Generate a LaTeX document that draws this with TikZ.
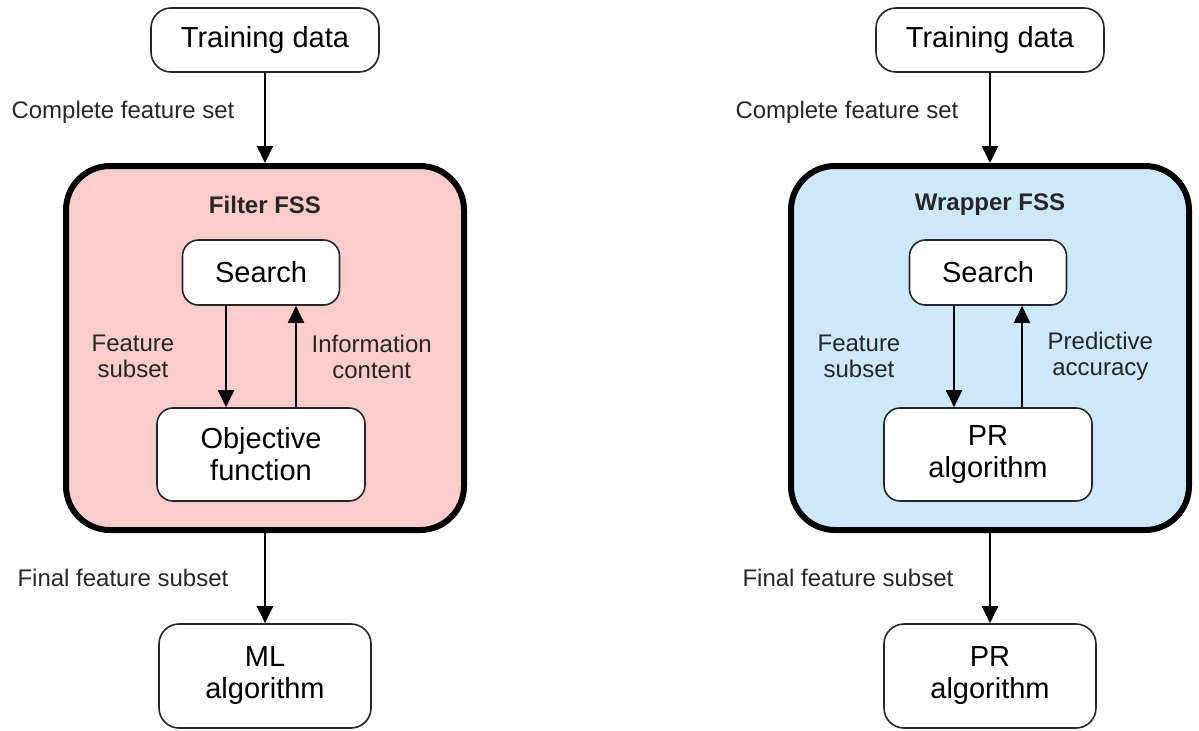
\documentclass[tikz,border=0pt]{standalone}
\usepackage{fontspec}
\setmainfont{Liberation Sans}
\usepackage{tikz}
\usetikzlibrary{arrows.meta,positioning}
\definecolor{filterpink}{RGB}{250,204,204}
\definecolor{wrapperblue}{RGB}{204,232,250}
\tikzset
{
    databox/.style  = {rectangle, rounded corners=10pt, draw=black!85, line width=0.8pt, fill=white, align=center, minimum width=114pt, minimum height=32pt, font=\fontsize{14.5}{16}\selectfont},
    fssbox/.style   = {rectangle, rounded corners=22pt, draw=black, line width=3pt, minimum width=199pt, minimum height=182pt},
    fsstitle/.style = {font=\fontsize{12}{14}\selectfont\bfseries, text=black!85},
    flowlabel/.style = {align=center, font=\fontsize{12}{13}\selectfont, text=black!85},
    arrow/.style    = {line width=1pt, -{Triangle[length=8.5pt,width=8pt]}},
}

\begin{document}
\begin{tikzpicture}
	\useasboundingbox (0,0) rectangle (599.5pt,-365pt);

	% filter FSS
	\node (tdL) [databox] at (132.5pt,-20pt) {Training data};
	\node (fssL) [fssbox, fill=filterpink, node distance=154pt, below of=tdL] {};
	\node (ttlL) [fsstitle, node distance=71.5pt, above of=fssL] {Filter FSS};
	\node (srchL) [databox, rounded corners=8pt, minimum width=78.5pt, minimum height=32.5pt, node distance=33.75pt, below of=ttlL, xshift=-2pt] {Search};
	\node (objL) [databox, rounded corners=8pt, minimum width=104pt, minimum height=46.5pt, node distance=91pt, below of=srchL] {Objective\\function};
	\node (mlL) [databox, minimum width=106pt, minimum height=52pt, node distance=164pt, below of=fssL] {ML\\algorithm};

	\draw [arrow] (tdL) -- node[flowlabel, left=11.5pt, yshift=3pt] {Complete feature set} (fssL);
	\draw [arrow] ([xshift=-17.5pt]srchL.south) -- node[flowlabel, left=22pt] {Feature\\subset} ([xshift=-17.5pt]objL.north);
	\draw [arrow] ([xshift=17.5pt]objL.north) -- node[flowlabel, right=4pt] {Information\\content} ([xshift=17.5pt]srchL.south);
	\draw [arrow] (fssL) -- node[flowlabel, left=14.5pt] {Final feature subset} (mlL);

	% wrapper FSS
	\node (tdR) [databox] [node distance=362.5pt, right of=tdL] {Training data};
	\node (fssR) [fssbox, fill=wrapperblue, node distance=154pt, below of=tdR] {};
	\node (ttlR) [fsstitle, node distance=71.5pt, above of=fssR] {Wrapper FSS};
	\node (srchR) [databox, rounded corners=8pt, minimum width=78.5pt, minimum height=32.5pt, node distance=33.75pt, below of=ttlR, xshift=-1pt] {Search};
	\node (prR) [databox, rounded corners=8pt, minimum width=104pt, minimum height=46.5pt, node distance=91pt, below of=srchR] {PR\\algorithm};
	\node (prfR) [databox, minimum width=106pt, minimum height=52pt, node distance=164pt, below of=fssR] {PR\\algorithm};

	\draw [arrow] (tdR) -- node[flowlabel, left=12pt, yshift=3pt] {Complete feature set} (fssR);
	\draw [arrow] ([xshift=-17pt]srchR.south) -- node[flowlabel, left=23pt] {Feature\\subset} ([xshift=-17pt]prR.north);
	\draw [arrow] ([xshift=17pt]prR.north) -- node[flowlabel, right=9pt] {Predictive\\accuracy} ([xshift=17pt]srchR.south);
	\draw [arrow] (fssR) -- node[flowlabel, left=14.5pt] {Final feature subset} (prfR);
\end{tikzpicture}
\end{document}
